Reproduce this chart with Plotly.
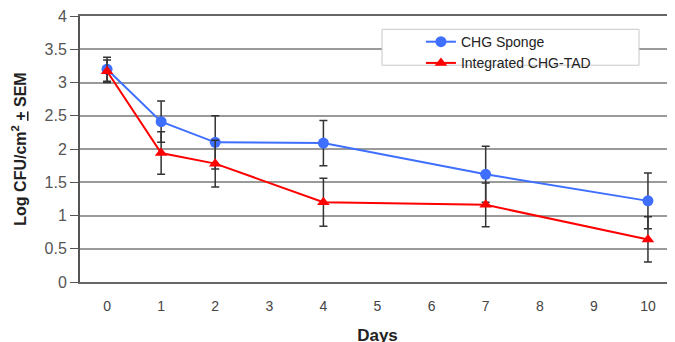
import plotly.graph_objects as go

days = [0, 1, 2, 4, 7, 10]
sponge = [3.20, 2.41, 2.10, 2.09, 1.62, 1.22]
sponge_sem = [0.18, 0.31, 0.40, 0.34, 0.42, 0.42]
tad = [3.17, 1.94, 1.78, 1.20, 1.16, 0.64]
tad_sem = [0.17, 0.32, 0.35, 0.36, 0.33, 0.34]
x_ticks = list(range(0, 11))
y_ticks = [0, 0.5, 1, 1.5, 2, 2.5, 3, 3.5, 4]

fig = go.Figure()
fig.add_trace(go.Scatter(
    x=days, y=sponge, name="CHG Sponge", mode="lines+markers",
    line=dict(color="#3f6fff", width=2),
    marker=dict(symbol="circle", size=11, color="#3f6fff"),
    error_y=dict(type="data", array=sponge_sem, color="#333333", thickness=1.5, width=4),
))
fig.add_trace(go.Scatter(
    x=days, y=tad, name="Integrated CHG-TAD", mode="lines+markers",
    line=dict(color="#ff0000", width=2),
    marker=dict(symbol="triangle-up", size=11, color="#ff0000"),
    error_y=dict(type="data", array=tad_sem, color="#333333", thickness=1.5, width=4),
))

# legend frame (wider than plotly's default legend box, as in the reference)
fig.add_shape(type="rect", xref="paper", yref="paper",
              x0=0.5076, x1=0.9395, y0=0.815, y1=0.950,
              line=dict(color="#c8c8c8", width=1), fillcolor="white", layer="above")

fig.update_layout(
    width=667, height=342,
    margin=dict(l=72, r=0, t=8, b=68),
    plot_bgcolor="white", paper_bgcolor="white",
    font=dict(family="Arial, Liberation Sans, sans-serif", size=14, color="#444444"),
    showlegend=True,
    legend=dict(
        x=0.573, y=0.962, xanchor="left", yanchor="top",
        bgcolor="rgba(0,0,0,0)", borderwidth=0,
        font=dict(size=14, color="#222222"),
        tracegroupgap=0, itemwidth=30,
    ),
    xaxis=dict(
        range=[-0.5, 10.5], tickmode="array", tickvals=x_ticks,
        ticktext=[str(v) for v in x_ticks],
        showgrid=False, showline=True, linecolor="#666666", linewidth=2, mirror=True,
        ticks="outside", ticklen=10, tickcolor="rgba(0,0,0,0)",
        zeroline=False, automargin=False,
        tickfont=dict(size=14, color="#444444"),
        title=dict(text="<b>Days</b>", font=dict(size=17, color="#222222"), standoff=16),
    ),
    yaxis=dict(
        range=[0, 4], tickmode="array",
        tickvals=y_ticks, ticktext=[f"{v:g}" for v in y_ticks],
        showgrid=True, gridcolor="#9a9a9a", gridwidth=1.5,
        showline=True, linecolor="#555555", linewidth=2,
        ticks="outside", ticklen=8, tickcolor="#555555",
        zeroline=False, automargin=False, ticklabeloverflow="allow",
        tickfont=dict(size=16, color="#555555"),
        title=dict(text="<b>Log CFU/cm<sup>2</sup> <u>+</u> SEM</b>", font=dict(size=16, color="#222222"), standoff=14),
    ),
)

fig.write_html("out.html")
